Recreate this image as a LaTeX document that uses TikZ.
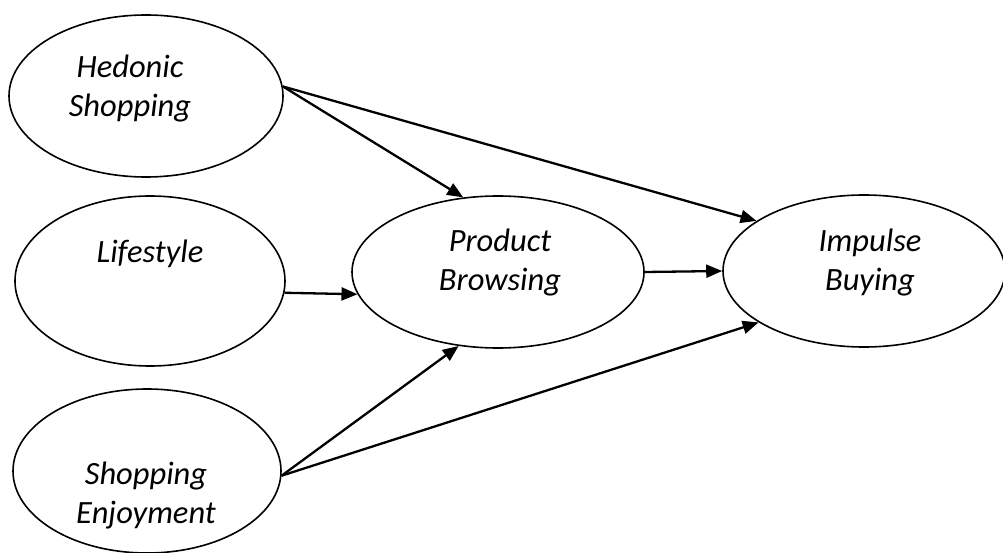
\documentclass[tikz,border=0pt]{standalone}
\usepackage{fontspec}
\setmainfont{Carlito}
\usetikzlibrary{shapes.geometric,arrows.meta}
\begin{document}
\begin{tikzpicture}[x=1pt,y=-1pt,
  construct/.style={draw,ellipse,line width=1.6pt,inner sep=0pt},
  lbl/.style={font=\fontsize{32.5}{39}\selectfont\itshape,align=center,inner sep=0pt},
  path/.style={line width=2.3pt,-{Triangle[length=16pt,width=13pt]}}]
\useasboundingbox (0,0) rectangle (1003,553);
\node[construct,minimum width=274pt,minimum height=162pt] (hed) at (146,96) {};
\node[construct,minimum width=270pt,minimum height=170pt] (life) at (150,281) {};
\node[construct,minimum width=268pt,minimum height=164pt] (enj) at (147,471) {};
\node[construct,minimum width=292pt,minimum height=152pt] (pb) at (498,272) {};
\node[construct,minimum width=282pt,minimum height=152pt] (ib) at (864,271) {};
\node[lbl] (hedt) at (130,89) {Hedonic\\Shopping};
\node[lbl] (lifet) at (150,254) {Lifestyle};
\node[lbl] (enjt) at (146,495) {Shopping\\Enjoyment};
\node[lbl] (pbt) at (500,263) {Product\\Browsing};
\node[lbl] (ibt) at (870,263) {Impulse\\Buying};
\draw[path] (hed.4) -- (pb.115);
\draw[path] (hed.4) -- (ib.155);
\draw[path] (life.-5) -- (pb.-171);
\draw[path] (pb.east) -- (ib.west);
\draw[path] (enj.-2) -- (pb.-118);
\draw[path] (enj.-2) -- (ib.206);
\end{tikzpicture}
\end{document}
